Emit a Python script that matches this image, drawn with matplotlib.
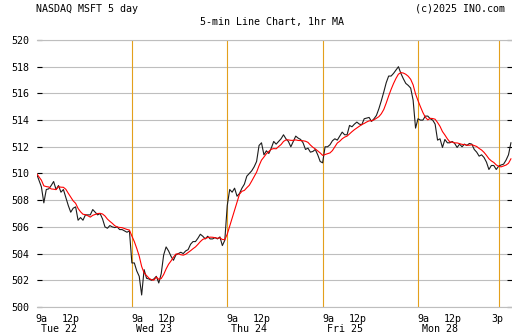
import numpy as np
import pandas as pd
import matplotlib
matplotlib.use("Agg")
import matplotlib.pyplot as plt
from matplotlib.transforms import blended_transform_factory

# 10-minute closes, 9:30-16:00 for each session
tue = [510.0, 509.5, 509.0, 507.8, 508.8, 508.85, 509.1, 509.4, 508.8, 509.1,
       508.6, 508.8, 508.2, 507.6, 507.1, 507.4, 507.5, 506.5, 506.7, 506.5,
       506.9, 506.9, 506.9, 507.3, 507.1, 506.9, 507.0, 506.6, 506.0, 505.9,
       506.1, 506.0, 505.95, 506.0, 505.8, 505.8, 505.7, 505.6, 505.7]
wed = [503.3, 503.3, 502.7, 502.3, 500.9, 502.8, 502.15, 502.1, 502.0, 502.1,
       502.3, 501.8, 502.5, 503.9, 504.5, 504.2, 503.8, 503.5, 503.9, 504.0,
       504.1, 504.0, 504.2, 504.3, 504.7, 504.9, 504.9, 505.15, 505.45, 505.3,
       505.1, 505.3, 505.1, 505.1, 505.2, 505.1, 505.25, 504.6, 505.0]
thu = [507.6, 508.8, 508.6, 508.9, 508.3, 508.5, 508.9, 509.2, 509.8, 510.0,
       510.2, 510.5, 510.9, 512.1, 512.3, 511.4, 511.7, 511.5, 511.9, 512.4,
       512.2, 512.4, 512.6, 512.9, 512.6, 512.4, 512.0, 512.4, 512.8, 512.65,
       512.55, 512.3, 511.8, 511.9, 511.6, 511.65, 511.8, 511.4, 510.9]
fri = [510.8, 512.0, 512.0, 512.15, 512.45, 512.6, 512.5, 512.8, 513.1, 512.9,
       512.9, 513.6, 513.5, 513.7, 513.85, 513.7, 513.65, 514.1, 514.15, 514.2,
       513.9, 514.1, 514.35, 514.85, 515.45, 516.1, 516.8, 517.3, 517.3, 517.5,
       517.75, 518.0, 517.5, 517.1, 516.75, 516.6, 516.4, 515.5, 513.4]
mon = [514.1, 514.0, 514.0, 514.3, 514.3, 514.1, 514.0, 513.7, 512.5, 512.6,
       511.95, 512.55, 512.3, 512.3, 512.4, 512.25, 511.95, 512.2, 512.0, 512.2,
       512.1, 512.25, 512.2, 511.8, 511.6, 511.3, 511.4, 511.2, 510.85, 510.3,
       510.6, 510.6, 510.3, 510.55, 510.64, 510.7, 511.0, 511.4, 512.3]

day_names = ["Tue 22", "Wed 23", "Thu 24", "Fri 25", "Mon 28"]
y_ticks = list(range(500, 521, 2))
bars_per_day = 39          # 9:30 .. 15:50 in 10-minute steps
noon_bar = 15              # 12:00
three_pm_bar = 33          # 15:00
ma_window = 6              # one hour of 10-minute bars

price = pd.Series(np.concatenate([tue, wed, thu, fri, mon]))
ma = price.rolling(ma_window, min_periods=1).mean()
x = np.arange(len(price))

FONT = "DejaVu Sans Mono"
FS = 7.2
W, H = 512, 335

fig = plt.figure(figsize=(W / 100, H / 100), dpi=100)
left_px, right_px, top_px, bot_px = 36.5, 512, 40, 307
ax = fig.add_axes([left_px / W, (H - bot_px) / H,
                   (right_px - left_px) / W, (bot_px - top_px) / H])

ax.set_ylim(500, 520)
ax.set_xlim(0, (right_px - left_px) / ((418 - left_px) / (4 * bars_per_day)))

# horizontal grid
ax.set_yticks(y_ticks)
ax.grid(axis="y", color="#BEBEBE", lw=0.8)
ax.set_axisbelow(True)
for s in ("left", "right"):
    ax.spines[s].set_visible(False)
for s in ("top", "bottom"):
    ax.spines[s].set_color("#BEBEBE")
    ax.spines[s].set_linewidth(0.8)

ax.tick_params(axis="y", direction="in", length=3.5, width=0.8, color="black",
               left=True, right=True, labelleft=True, pad=5, labelsize=FS)
for lab in ax.get_yticklabels():
    lab.set_fontfamily(FONT)
ax.set_xticks([])

# session separators and the 3p marker
vcol = "#E3A01C"
for d in range(1, 5):
    ax.axvline(d * bars_per_day, color=vcol, lw=0.8, zorder=1)
ax.axvline(4 * bars_per_day + three_pm_bar, color=vcol, lw=0.8, zorder=1)

ax.plot(x, price, color="#1c1c1c", lw=0.8, zorder=3)
ax.plot(x, ma, color="red", lw=0.8, zorder=4)

# time axis labels
tr = blended_transform_factory(ax.transData, fig.transFigure)
row1 = (H - 322) / H
row2 = (H - 332) / H
for d, name in enumerate(day_names):
    x0 = d * bars_per_day
    ax.text(x0 - 0.3, row1, "9a", transform=tr, ha="left", va="baseline",
            family=FONT, fontsize=FS)
    ax.text(x0 + noon_bar - 0.8, row1, "12p", transform=tr, ha="center",
            va="baseline", family=FONT, fontsize=FS)
    ax.text(x0 + 9, row2, name, transform=tr, ha="center", va="baseline",
            family=FONT, fontsize=FS)
ax.text(4 * bars_per_day + three_pm_bar - 0.5, row1, "3p", transform=tr,
        ha="center", va="baseline", family=FONT, fontsize=FS)

# header
fig.text(35.7 / W, (H - 11.5) / H, "NASDAQ MSFT 5 day", ha="left",
         va="baseline", family=FONT, fontsize=FS)
fig.text(505 / W, (H - 11.5) / H, "(c)2025 INO.com", ha="right",
         va="baseline", family=FONT, fontsize=FS)
fig.text(272 / W, (H - 24.5) / H, "5-min Line Chart, 1hr MA", ha="center",
         va="baseline", family=FONT, fontsize=FS)

fig.savefig("out.png", dpi=100, facecolor="white")
